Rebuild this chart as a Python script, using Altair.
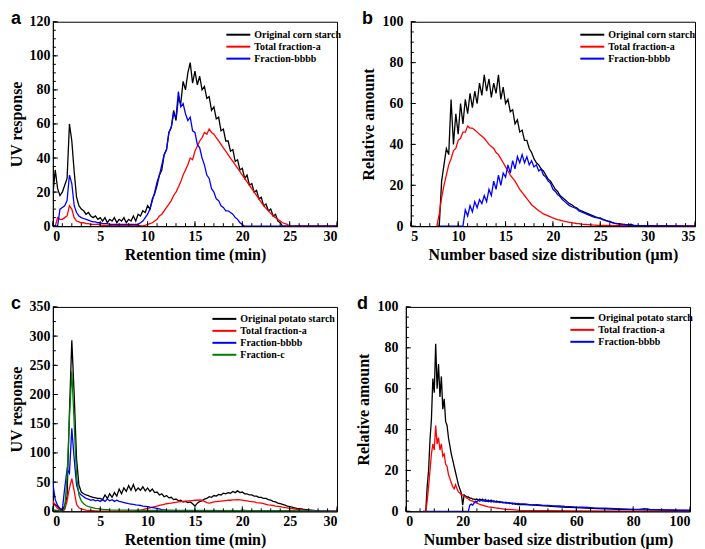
import altair as alt
import pandas as pd

SERIF = "Liberation Serif"
SANS = "Liberation Sans"
W, H = 285, 205
COL3 = ["#000000", "#ff0000", "#0000ff"]
COL4 = ["#000000", "#ff0000", "#0000ff", "#008000"]

# ---------------- panel a : corn starch, UV response ----------------
A_NAMES = ["Original corn starch", "Total fraction-a", "Fraction-bbbb"]
A_STEP = 0.25
A_BLACK = [18, 33, 22, 18, 20, 24, 28, 60, 50, 32, 17, 12, 10, 9, 7, 8, 6, 5, 6, 4,
           5, 3, 5, 2, 4, 3, 5, 2, 4, 3, 5, 2, 4, 3, 6, 3, 7, 6, 9, 8,
           12, 10, 16, 19, 24, 30, 33, 42, 45, 55, 58, 68, 62, 75, 72, 85, 80, 90, 96, 84,
           91, 83, 88, 80, 82, 75, 76, 68, 70, 63, 64, 56, 57, 50, 50, 44, 45, 38, 39, 33,
           34, 28, 30, 24, 25, 20, 21, 16, 17, 12, 13, 9, 10, 6, 7, 3, 2, 0, 0, 0, 0]
A_RED = [0, 0, 5, 4, 4, 5, 6, 12, 10, 5, 3, 2.5, 2, 2, 1.5, 1.5, 1, 1, 1, 1, 0.8,
         0.5, 0.5, 0.5, 0.5, 0.5, 0.5, 0.5, 0.5, 0.5, 0.5, 0.5, 0.5, 0.5, 0.5, 0.5, 0.5,
         0.3, 0.2, 0.5, 1, 1.5, 2, 3, 4, 6, 7, 9, 11, 13, 15, 18, 20, 23, 26, 30, 33,
         36, 40, 39, 44, 47, 50, 52, 55, 54, 57, 55, 54, 52, 50, 48, 46, 44, 42, 40, 38,
         36, 34, 32, 30, 28, 26, 24, 22, 20, 18, 16, 14, 12, 10.5, 9, 7.5, 6, 5, 4, 3,
         2, 1.5, 1, 0]
A_BLUE = [0, 0, 0, 10, 11, 12, 15, 30, 25, 12, 8, 6, 5, 4.5, 4, 3.5, 3, 2.5, 2.5, 2,
          2, 1.5, 1.5, 1.5, 1, 1, 1, 1, 1, 1, 1, 1, 1, 1, 1, 1, 1,
          2, 3, 5, 7, 10, 15, 20, 26, 30, 36, 42, 45, 55, 58, 66, 64, 79, 70, 72,
          66, 62, 64, 56, 55, 48, 46, 40, 36, 30, 28, 22, 20, 16, 15, 12, 11, 9, 9, 8,
          7, 5, 4, 2, 1, 0, 0]
A_TAIL_X = [30]
A_TAIL_Y = [0]

# ---------------- panel b : corn starch, size distribution ----------------
B_NAMES = ["Original corn starch", "Total fraction-a", "Fraction-bbbb"]
B_STEP = 0.25
B_BLACK_START = 7.75
B_BLACK = [0, 0, 22, 30, 38, 35, 62, 40, 55, 45, 60, 50, 62, 55, 65, 58, 66, 60, 70, 64,
           74, 66, 72, 63, 70, 65, 74, 62, 68, 60, 62, 56, 57, 50, 52, 46, 47, 42, 42, 38,
           36, 33, 31, 30, 28, 27, 25, 23, 22, 20, 18, 17, 15, 14, 13, 12, 11, 10.5, 9.5, 9,
           8, 7.5, 7, 6.5, 6, 5.5, 5, 4.5, 4.2, 4, 3.4, 3, 2.6, 2.3, 1.9, 1.5, 1.3, 1.2, 1, 0.8,
           0.7, 0.6, 1, 0.4]
B_BLACK_TAIL_X = [30, 35]
B_BLACK_TAIL_Y = [0.2, 0]
B_RED_START = 7.75
B_RED = [0, 6, 14, 20, 25, 30, 33, 37, 38, 42, 43, 46, 46, 49, 48, 48, 47, 46, 45, 44,
         43, 41.5, 40, 39, 38, 36, 35, 33, 31, 29, 27, 25, 23.5, 22, 20, 18, 16.5, 15, 13.5, 12,
         10.5, 9.5, 8.5, 7.5, 6.8, 6, 5.5, 5, 4.5, 4, 3.6, 3.2, 2.9, 2.6, 2.3, 2.1, 1.9, 1.7, 1.5, 1.3,
         1.2, 1.0, 0.9, 0.8, 0.7, 0.6, 0.5, 0.5, 0.4, 0.4]
B_RED_TAIL_X = [27, 30, 35]
B_RED_TAIL_Y = [0.2, 0.1, 0]
B_BLUE_START = 8.0
B_BLUE = [0, 0, 0, 0, 0, 0, 0, 0, 0, 0, 0, 8, 5, 10, 7, 12, 9, 13, 11, 15,
          12, 18, 15, 22, 18, 25, 20, 26, 24, 30, 26, 32, 28, 34, 31, 35, 31, 34, 30, 32,
          29, 30, 27, 28, 25, 24, 22, 21, 18, 17, 15.5, 14.5, 13, 12, 11, 10, 9.5, 9, 8.5, 7.5,
          7, 6.5, 6, 5.5, 5, 4.5, 4.2, 4, 3.7, 3.2, 2.8, 2.4, 2, 1.7, 1.4, 1.2, 1, 0.9, 0.8, 0.6,
          0.5]
B_BLUE_TAIL_X = [29, 30, 32, 35]
B_BLUE_TAIL_Y = [0.3, 0.2, 0.1, 0]

# ---------------- panel c : potato starch, UV response ----------------
C_NAMES = ["Original potato starch", "Total fraction-a", "Fraction-bbbb", "Fraction-c"]
C_STEP = 0.25
C_BLACK = [10, 12, 8, 4, 2, 10, 25, 170, 293, 200, 90, 45, 33, 30, 28, 27, 25, 24, 23, 22,
           22, 20, 28, 22, 30, 24, 32, 26, 38, 30, 40, 34, 44, 36, 46, 35, 40, 36, 42, 35,
           40, 34, 38, 32, 33, 28, 30, 25, 27, 23, 24, 20, 21, 18, 19, 16, 17, 15, 16, 13,
           9, 14, 17, 18, 21, 22, 25, 24, 27, 26, 29, 28, 31, 30, 32, 31, 34, 32, 35, 32,
           33, 30, 30, 28, 28, 26, 26, 24, 24, 22, 22, 20, 19, 17, 16, 14, 13, 12, 10.5, 9,
           8, 7, 6, 5, 4.5, 4, 3.5, 3, 2.5, 2, 1.5, 1, 0.8, 0.5, 0.3, 0.2, 0.1]
C_BLACK_TAIL_X = [30]
C_BLACK_TAIL_Y = [0]
C_RED = [18, 10, 5, 2, 0, 3, 18, 40, 56, 35, 12, 6, 4, 3, 2, 1.5, 1, 1, 0.8, 0.6, 0.5,
         0.5, 0.5, 0.5, 0.5, 0.5, 0.5, 0.5, 0.5, 0.5, 0.5, 0.5, 0.5, 0.5, 0.5,
         1, 1.5, 2, 3, 4, 5, 6, 7, 8, 9, 10, 11, 12, 13, 13.5, 14, 15, 15.5, 16, 16.5,
         17, 17.5, 18, 18, 18.5, 19, 19, 19.5, 19, 17, 15, 14, 15, 16, 16.5, 17, 17.5, 18, 18.5, 19,
         19, 19.5, 19.5, 20, 19.5, 19, 18.5, 18, 17, 16.5, 16, 15, 14.5, 14, 13, 12, 11, 10.5, 10, 9,
         8.5, 8, 7, 6.5, 6, 5, 4.5, 4, 3.5, 3, 2.5, 2, 1.5, 1.2, 1, 0.8, 0.6, 0.5, 0.4, 0.3,
         0.3, 0.2, 0.2, 0.1, 0.1, 0]
C_BLUE = [48, 20, 10, 5, 3, 40, 72, 65, 142, 90, 45, 32, 28, 25, 22, 21, 19, 20, 18, 19,
          17, 20, 17, 21, 18, 20, 17, 19, 17, 16, 15, 14, 13, 12.5, 12, 11, 10.5, 10, 9, 8.5,
          8, 7, 6.5, 6, 5, 4, 3, 2.5, 2]
C_BLUE_TAIL_X = [13, 14, 16, 18, 19, 19.5, 20, 21, 25, 30]
C_BLUE_TAIL_Y = [1, 0.8, 0.5, 0.5, 1.5, 0.5, 2, 0.5, 0.3, 0]
C_GREEN = [3, 2, 1, 1, 1, 5, 60, 160, 240, 150, 60, 28, 18, 13, 10, 8, 7, 6, 5, 4.5,
           4, 3.5, 3, 3, 2.5]
C_GREEN_TAIL_X = [8, 10, 15, 20, 25, 28, 30]
C_GREEN_TAIL_Y = [2, 1.5, 1.5, 1, 1, 0.5, 0]

# ---------------- panel d : potato starch, size distribution ----------------
D_NAMES = ["Original potato starch", "Total fraction-a", "Fraction-bbbb"]
D_STEP = 0.5
D_START = 6.0
D_BLACK = [0, 0, 0, 12, 20, 35, 45, 65, 58, 82, 60, 72, 56, 66, 50, 55, 44, 42, 36, 32,
           28, 25, 22, 19, 16, 13, 11, 9, 3, 8, 7.5, 7, 7, 6.5, 6.5, 6, 6, 5.8, 6, 5.5,
           6, 5.5, 6, 5.2, 5.8, 5, 5.5, 5, 5.5, 4.8, 5.2, 4.6, 5, 4.5, 4.8, 4.3, 4.6, 4.2, 4.5, 4,
           4.2, 3.8, 4, 3.6, 3.8, 3.4, 3.6, 3.3, 3.4]
D_BLACK_TAIL_X = [45, 50, 55, 60, 65, 70, 75, 80, 85, 90, 95, 100]
D_BLACK_TAIL_Y = [3, 2.5, 2.1, 1.8, 1.5, 1.2, 1.0, 0.8, 0.7, 0.6, 0.5, 0.4]
D_RED = [0, 0, 0, 5, 12, 20, 28, 33, 30, 42, 33, 36, 30, 33, 27, 28, 23, 22, 18, 16,
         14, 12, 11, 13, 11, 9.5, 9, 8, 8, 7.5, 7, 6.5, 6, 5.5, 5.2, 5, 4.6, 4.3, 4, 3.7,
         3.4, 3.2, 3, 2.8, 2.6, 2.4, 2.2, 2.1, 2, 1.9, 1.8, 1.7, 1.6, 1.5, 1.4, 1.3, 1.2, 1.1, 1, 1,
         0.9, 0.9, 0.8, 0.8, 0.7, 0.7, 0.6, 0.6, 0.5]
D_RED_TAIL_X = [50, 60, 80, 100]
D_RED_TAIL_Y = [0.3, 0.2, 0.1, 0]
D_BLUE_HEAD_X = [7, 22]
D_BLUE_HEAD_Y = [0, 0]
D_BLUE_START = 22.5
D_BLUE = [3, 3.5, 3, 4, 5, 4.5, 5.5, 5, 5.5, 5, 5.2, 4.8, 5.2, 4.7, 5, 4.6, 5, 4.5, 4.8, 4.4,
          4.7, 4.3, 4.6, 4.2, 4.4, 4.1, 4.3, 4, 4.2, 3.9, 4.1, 3.8, 4, 3.7, 3.9, 3.6]
D_BLUE_TAIL_X = [42, 44, 46, 48, 50, 52, 54, 56, 58, 60, 62, 64, 66, 68, 70, 72, 74, 76, 78,
                 80, 82, 84, 86, 88, 90, 92, 94, 96, 98, 100]
D_BLUE_TAIL_Y = [3.6, 3.2, 3.3, 3, 2.9, 2.7, 2.6, 2.4, 2.3, 2.1, 2.0, 1.9, 1.7, 1.6, 1.5, 1.4,
                 1.3, 1.2, 1.1, 1.0, 1.0, 1.3, 0.9, 0.8, 0.8, 0.7, 0.7, 0.6, 0.6, 0.5]


def series(name, x0, step, ys, head_x=(), head_y=(), tail_x=(), tail_y=()):
    xs = [x0 + i * step for i in range(len(ys))]
    return pd.DataFrame({"x": list(head_x) + xs + list(tail_x),
                         "y": list(head_y) + list(ys) + list(tail_y),
                         "series": name})


df_a = pd.concat([
    series(A_NAMES[0], 0.0, A_STEP, A_BLACK, tail_x=A_TAIL_X, tail_y=A_TAIL_Y),
    series(A_NAMES[1], 0.0, A_STEP, A_RED, tail_x=A_TAIL_X, tail_y=A_TAIL_Y),
    series(A_NAMES[2], 0.0, A_STEP, A_BLUE, tail_x=A_TAIL_X, tail_y=A_TAIL_Y),
], ignore_index=True)

df_b = pd.concat([
    series(B_NAMES[0], B_BLACK_START, B_STEP, B_BLACK, tail_x=B_BLACK_TAIL_X, tail_y=B_BLACK_TAIL_Y),
    series(B_NAMES[1], B_RED_START, B_STEP, B_RED, tail_x=B_RED_TAIL_X, tail_y=B_RED_TAIL_Y),
    series(B_NAMES[2], B_BLUE_START, B_STEP, B_BLUE, tail_x=B_BLUE_TAIL_X, tail_y=B_BLUE_TAIL_Y),
], ignore_index=True)

df_c = pd.concat([
    series(C_NAMES[0], 0.0, C_STEP, C_BLACK, tail_x=C_BLACK_TAIL_X, tail_y=C_BLACK_TAIL_Y),
    series(C_NAMES[1], 0.0, C_STEP, C_RED),
    series(C_NAMES[2], 0.0, C_STEP, C_BLUE, tail_x=C_BLUE_TAIL_X, tail_y=C_BLUE_TAIL_Y),
    series(C_NAMES[3], 0.0, C_STEP, C_GREEN, tail_x=C_GREEN_TAIL_X, tail_y=C_GREEN_TAIL_Y),
], ignore_index=True)

df_d = pd.concat([
    series(D_NAMES[0], D_START, D_STEP, D_BLACK, tail_x=D_BLACK_TAIL_X, tail_y=D_BLACK_TAIL_Y),
    series(D_NAMES[1], D_START, D_STEP, D_RED, tail_x=D_RED_TAIL_X, tail_y=D_RED_TAIL_Y),
    series(D_NAMES[2], D_BLUE_START, D_STEP, D_BLUE, head_x=D_BLUE_HEAD_X, head_y=D_BLUE_HEAD_Y,
           tail_x=D_BLUE_TAIL_X, tail_y=D_BLUE_TAIL_Y),
], ignore_index=True)


def rng(a, b, s):
    out, v = [], a
    while v <= b + 1e-9:
        out.append(round(v, 4))
        v += s
    return out


def panel(df, names, colors, xdom, ydom, xstep, ystep, xminor, yminor, xtitle, ytitle,
          letter, letter_x, legx, legy, ylabpad, ytitlepad):
    xs = alt.Scale(domain=xdom, nice=False, zero=False)
    ys = alt.Scale(domain=ydom, nice=False, zero=False)
    xmaj, ymaj = rng(xdom[0], xdom[1], xstep), rng(ydom[0], ydom[1], ystep)
    xmin, ymin = rng(xdom[0], xdom[1], xminor), rng(ydom[0], ydom[1], yminor)
    xaxis = alt.Axis(values=xmaj, ticks=False, labelPadding=3, titlePadding=3,
                     labelOverlap=False, orient="bottom")
    yaxis = alt.Axis(values=ymaj, ticks=False, labelPadding=ylabpad, titlePadding=ytitlepad,
                     labelOverlap=False, orient="left")
    lines = alt.Chart(df).mark_line(strokeWidth=1.3, clip=True).encode(
        x=alt.X("x:Q", scale=xs, title=xtitle, axis=xaxis),
        y=alt.Y("y:Q", scale=ys, title=ytitle, axis=yaxis),
        color=alt.Color("series:N", sort=names,
                        scale=alt.Scale(domain=names, range=colors),
                        legend=alt.Legend(orient="none", legendX=legx, legendY=legy, title=None,
                                          symbolType="M-3,0L3,0", symbolSize=64,
                                          symbolStrokeWidth=2, labelFont=SERIF,
                                          labelFontWeight="bold", labelFontSize=10,
                                          labelColor="black", labelOffset=11, rowPadding=2,
                                          padding=0, labelLimit=0)),
    )

    def xticks(vals, size):
        return alt.Chart(pd.DataFrame({"v": vals})).mark_rule(color="black", strokeWidth=1).encode(
            x=alt.X("v:Q", scale=xs, title=xtitle, axis=xaxis), y=alt.value(H), y2=alt.value(H - size))

    def yticks(vals, size):
        return alt.Chart(pd.DataFrame({"v": vals})).mark_rule(color="black", strokeWidth=1).encode(
            y=alt.Y("v:Q", scale=ys, title=ytitle, axis=yaxis), x=alt.value(0), x2=alt.value(size))

    lab = alt.Chart(pd.DataFrame({"t": [letter]})).mark_text(
        font=SANS, fontWeight="bold", fontSize=18, align="left", baseline="alphabetic",
        color="black").encode(text="t:N", x=alt.value(letter_x), y=alt.value(2))

    return alt.layer(lines, xticks(xmin, 3), yticks(ymin, 3), xticks(xmaj, 5), yticks(ymaj, 5),
                     lab).properties(width=W, height=H)


pa = panel(df_a, A_NAMES, COL3, [0, 30], [0, 120], 5, 20, 1, 5,
           "Retention time (min)", "UV response", "a", -42, 181, 8, 3, 4)
pb = panel(df_b, B_NAMES, COL3, [5, 35], [0, 100], 5, 20, 1, 5,
           "Number based size distribution (\u03bcm)", "Relative amount", "b", -49, 177, 8, 8, 5)
pc = panel(df_c, C_NAMES, COL4, [0, 30], [0, 350], 5, 50, 1, 25,
           "Retention time (min)", "UV response", "c", -42, 167, 7, 3, 4)
pd_ = panel(df_d, D_NAMES, COL3, [0, 100], [0, 100], 20, 20, 5, 5,
            "Number based size distribution (\u03bcm)", "Relative amount", "d", -49, 172, 6, 8, 5)

row1 = alt.hconcat(pa, pb, spacing=17).resolve_scale(color="independent")
row2 = alt.hconcat(pc, pd_, spacing=17).resolve_scale(color="independent")

chart = alt.vconcat(row1, row2, spacing=31).resolve_scale(color="independent").properties(
    padding=0, background="white"
).configure_view(
    stroke="black", strokeWidth=1
).configure_axis(
    labelFont=SERIF, labelFontWeight="bold", labelFontSize=14, labelColor="black",
    titleFont=SERIF, titleFontWeight="bold", titleFontSize=16, titleColor="black",
    domainColor="black", domainWidth=1, tickColor="black", tickWidth=1, grid=False
)

chart.save("out.html", embed_options={"renderer": "svg", "actions": False})
